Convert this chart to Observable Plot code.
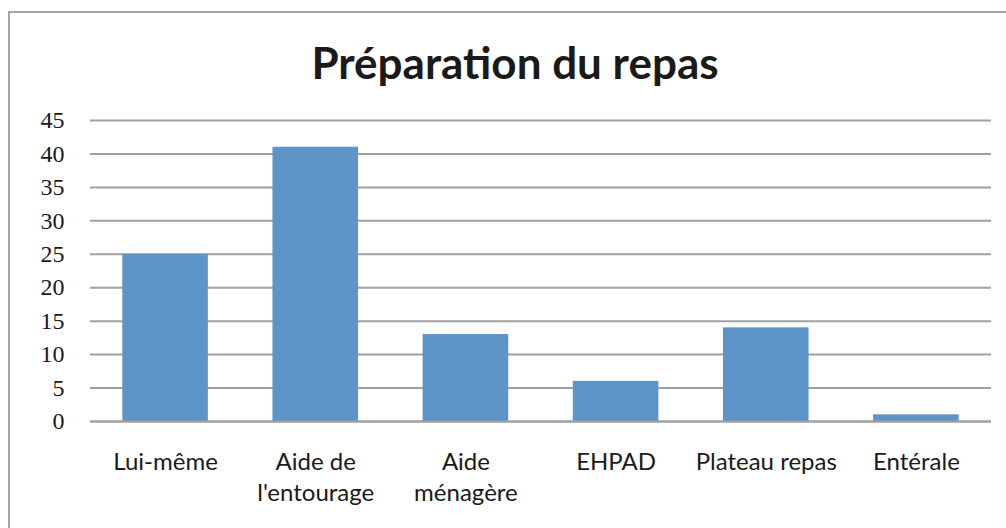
<!DOCTYPE html>
<html>
<head>
<meta charset="utf-8">
<script src="https://cdn.jsdelivr.net/npm/d3@7"></script>
<script src="https://cdn.jsdelivr.net/npm/@observablehq/plot@0.6"></script>
<style>
  html, body { margin: 0; padding: 0; background: #fff; overflow: hidden; }
  #wrap { position: relative; width: 1006px; height: 528px; }
  #frame { position: absolute; left: 8px; top: 11px; width: 1100px; height: 600px; border: 2px solid #a6a6a6; box-sizing: border-box; }
  #title { position: absolute; left: 0; top: 0; width: 1030px; height: 100px; line-height: 124px; text-align: center;
           font-family: Lato, "Open Sans", sans-serif; font-weight: bold; font-size: 44px; color: #1a1a1a; }
  #chart { position: absolute; left: 0; top: 100px; }
</style>
</head>
<body>
<div id="wrap">
  <div id="frame"></div>
  <div id="title">Préparation du repas</div>
  <div id="chart"></div>
</div>
<script>
const categories = ["Lui-même", "Aide de l'entourage", "Aide ménagère", "EHPAD", "Plateau repas", "Entérale"];
const values = [25, 41, 13, 6, 14, 1];
const tickLabels = ["Lui-même", "Aide de\nl'entourage", "Aide\nménagère", "EHPAD", "Plateau repas", "Entérale"];
const yTicks = [0, 5, 10, 15, 20, 25, 30, 35, 40, 45];

const data = categories.map((c, i) => ({category: c, value: values[i]}));
const labelOf = new Map(categories.map((c, i) => [c, tickLabels[i]]));

const chart = Plot.plot({
  width: 1006,
  height: 428,
  marginTop: 20,
  marginBottom: 107,
  marginLeft: 90,
  marginRight: 15,
  style: {background: "transparent", overflow: "visible"},
  x: {domain: categories, paddingInner: 0.43, paddingOuter: 0.215, round: false, label: null},
  y: {domain: [0, 45], label: null},
  marks: [
    Plot.gridY(yTicks, {stroke: "#a0a0a0", strokeOpacity: 1, strokeWidth: 2}),
    Plot.barY(data, {x: "category", y: "value", fill: "#5e95c9"}),
    Plot.ruleY([0], {stroke: "#a0a0a0", strokeWidth: 2}),
    Plot.axisY(yTicks, {tickSize: 0, tickPadding: 26, fontSize: 24, fontFamily: "Liberation Serif, serif", fill: "#1a1a1a", label: null}),
    Plot.axisX({tickSize: 0, tickPadding: 26, fontSize: 24, fontFamily: "Lato, sans-serif", fill: "#1a1a1a", label: null,
                tickFormat: d => labelOf.get(d), lineHeight: 1.3})
  ]
});
document.getElementById("chart").appendChild(chart);
</script>
</body>
</html>
